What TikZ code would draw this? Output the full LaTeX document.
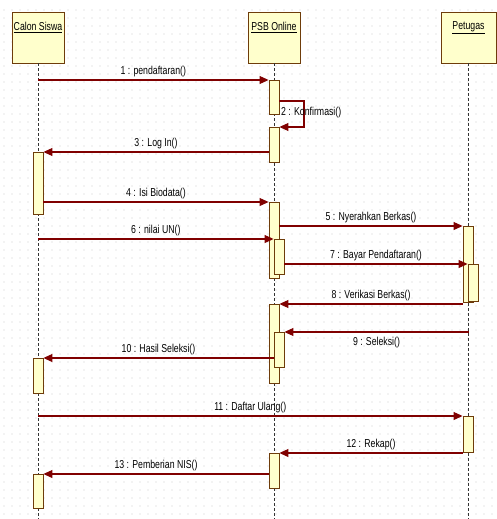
\documentclass[tikz,border=0pt]{standalone}
\usepackage{fontspec}
\setmainfont{Liberation Sans}[FakeStretch=0.76]
\usetikzlibrary{arrows.meta,calc}
\definecolor{msg}{RGB}{128,0,0}
\definecolor{boxfill}{RGB}{255,255,204}
\definecolor{boxline}{RGB}{110,60,10}
\definecolor{gridgray}{RGB}{205,205,205}
\begin{document}
\begin{tikzpicture}[x=1pt,y=-1pt,
  obj/.style={draw=boxline, fill=boxfill, line width=0.9pt, minimum width=52pt, minimum height=51pt, inner sep=0pt},
  act/.style={draw=boxline, fill=boxfill, line width=0.9pt, minimum width=10pt, inner sep=0pt, anchor=north},
  life/.style={draw=black!80, dash pattern=on 3pt off 2pt, line width=0.6pt},
  msgline/.style={draw=msg, line width=1.1pt, -{Triangle[length=9pt,width=8pt]}},
  lbl/.style={font=\fontsize{11.5}{13}\selectfont, text=black, inner sep=1pt}]
\useasboundingbox (0,0) rectangle (497,519);
\fill[white] (0,0) rectangle (497,519);
% dotted grid
\foreach \i in {0,...,61} {
  \foreach \j in {0,...,63} {
    \fill[gridgray] (4+\i*8, 10+\j*8) circle (0.55);
  }
}
% objects
\node[obj] (cs) at (38,37.5) {};
\node[obj] (psb) at (274,37.5) {};
\node[obj, minimum width=55pt] (pet) at (468.5,37.5) {};
\node[lbl] (cst) at ($(cs.north)+(0,16)$) {\underline{Calon Siswa}};
\node[lbl] (psbt) at ($(psb.north)+(0,16)$) {\underline{PSB Online}};
\node[lbl] (pett) at ($(pet.north)+(0,16)$) {\underline{Petugas}};
% lifeline ends
\coordinate (csend) at (38,519);
\coordinate (psbend) at (274,519);
\coordinate (petend) at (468.5,519);
\draw[life] (cs.south) -- (csend);
\draw[life] (psb.south) -- (psbend);
\draw[life] (pet.south) -- (petend);
% activations Calon Siswa
\node[act, minimum height=62pt] (ca1) at (38,152) {};
\node[act, minimum height=35pt] (ca2) at (38,358) {};
\node[act, minimum height=34pt] (ca3) at (38,474) {};
% activations PSB Online
\node[act, minimum height=34pt] (pa1) at (274,80) {};
\node[act, minimum height=35pt] (pa2) at (274,127) {};
\node[act, minimum height=76pt] (pa3) at (274,202) {};
\node[act, minimum height=35pt] (pa3n) at (279,239) {};
\node[act, minimum height=79pt] (pa4) at (274,304) {};
\node[act, minimum height=35pt] (pa4n) at (279,332) {};
\node[act, minimum height=35pt] (pa5) at (274,453) {};
% activations Petugas
\node[act, minimum height=76pt] (ta1) at (468,226) {};
\node[act, minimum height=37pt] (ta1n) at (473,264) {};
\node[act, minimum height=36pt] (ta2) at (468,416) {};
% messages
\draw[msgline] (cs.south |- pa1.north) -- (pa1.north west)
  node[lbl, midway, above=2pt] (l1) {1 : pendaftaran()};
\coordinate (k0) at ($(pa1.north east)+(0,21)$);
\coordinate (k1) at (304,101);
\coordinate (k2) at (304,127);
\draw[msgline] (k0) -- (k1) -- (k2) -- (pa2.north east);
\node[lbl, anchor=west] (l2) at (280,113) {2 : Konfirmasi()};
\draw[msgline] (pa2.west |- 0,152) -- (ca1.north east)
  node[lbl, midway, above=2pt] (l3) {3 : Log In()};
\draw[msgline] (ca1.east |- pa3.north) -- (pa3.north west)
  node[lbl, midway, above=2pt] (l4) {4 : Isi Biodata()};
\draw[msgline] (pa3.east |- ta1.north) -- (ta1.north west)
  node[lbl, midway, above=2pt] (l5) {5 : Nyerahkan Berkas()};
\draw[msgline] (cs.south |- pa3n.north) -- (pa3n.north west)
  node[lbl, midway, above=2pt] (l6) {6 : nilai UN()};
\draw[msgline] (pa3n.east |- ta1n.north) -- (ta1n.north west)
  node[lbl, midway, above=2pt] (l7) {7 : Bayar Pendaftaran()};
\draw[msgline] (ta1.west |- pa4.north) -- (pa4.north east)
  node[lbl, midway, above=2pt] (l8) {8 : Verikasi Berkas()};
\draw[msgline] (pet.south |- pa4n.north) -- (pa4n.north east)
  node[lbl, midway, below=4pt] (l9) {9 : Seleksi()};
\draw[msgline] (pa4n.west |- ca2.north) -- (ca2.north east)
  node[lbl, midway, above=2pt] (l10) {10 : Hasil Seleksi()};
\draw[msgline] (cs.south |- ta2.north) -- (ta2.north west)
  node[lbl, midway, above=2pt] (l11) {11 : Daftar Ulang()};
\draw[msgline] (ta2.west |- pa5.north) -- (pa5.north east)
  node[lbl, midway, above=2pt] (l12) {12 : Rekap()};
\draw[msgline] (pa5.west |- ca3.north) -- (ca3.north east)
  node[lbl, midway, above=2pt] (l13) {13 : Pemberian NIS()};
\end{tikzpicture}
\end{document}
